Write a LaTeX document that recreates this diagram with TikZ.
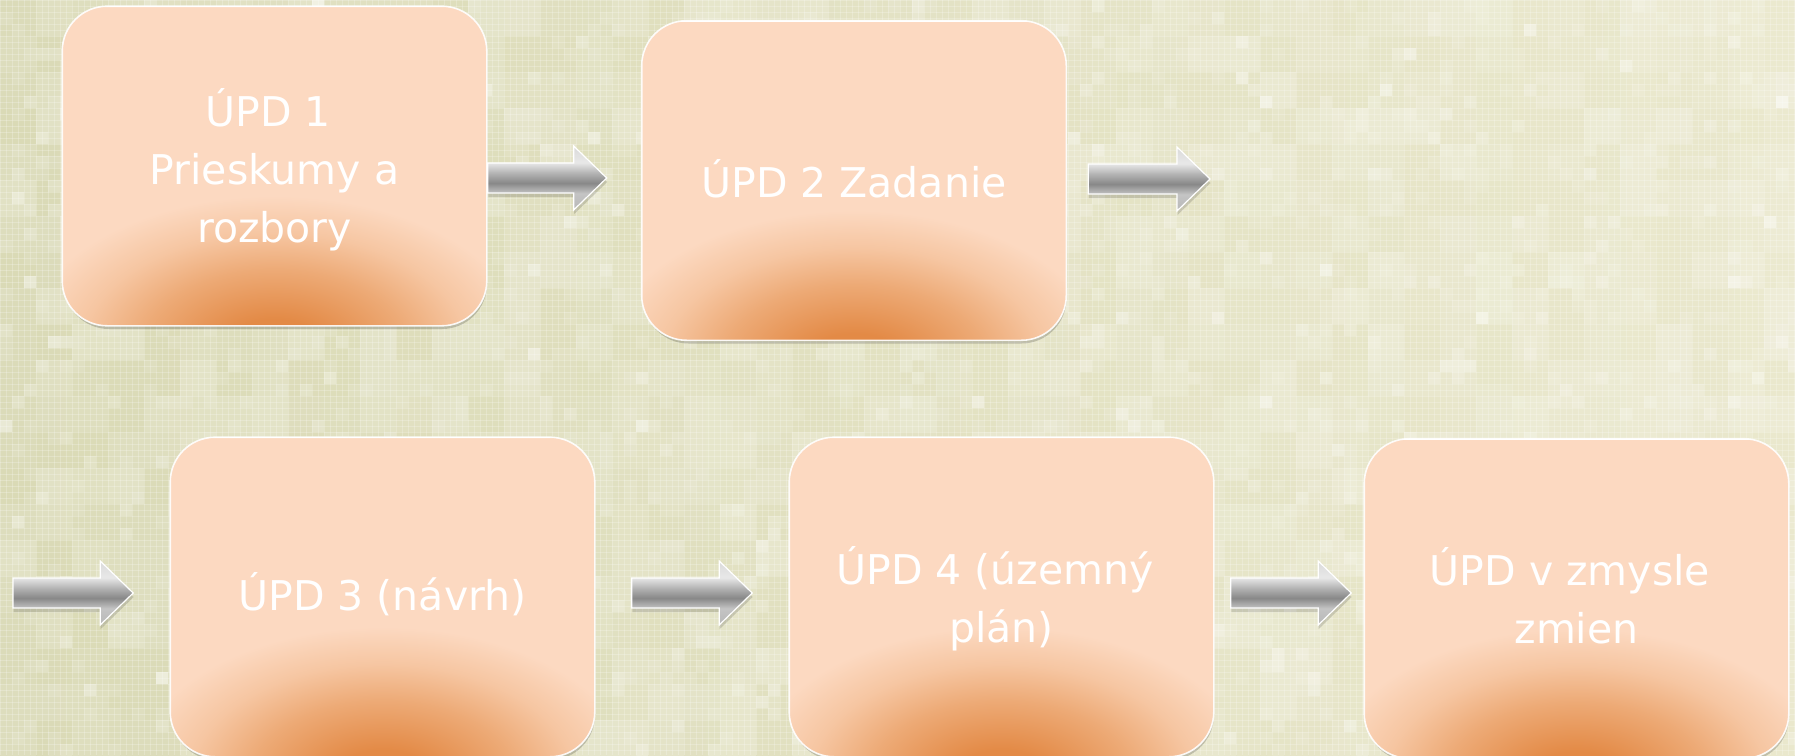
\documentclass[tikz,border=0pt]{standalone}
\usepackage{fontspec}
\setmainfont{DejaVu Sans}
\usetikzlibrary{calc,shadows}

\definecolor{peach}{RGB}{252,217,193}
\definecolor{glowA}{RGB}{227,138,70}
\definecolor{glowB}{RGB}{237,170,118}
\definecolor{glowC}{RGB}{246,198,162}
\definecolor{bgL}{RGB}{218,218,182}
\definecolor{bgR}{RGB}{234,232,205}
\definecolor{agT}{RGB}{218,218,218}
\definecolor{agL}{RGB}{232,232,232}
\definecolor{agM}{RGB}{180,180,180}
\definecolor{agD}{RGB}{136,136,136}
\definecolor{agB}{RGB}{196,196,196}
\definecolor{agBB}{RGB}{184,184,184}

\pgfdeclareradialshading{boxglow}{\pgfpoint{0bp}{0bp}}{%
  color(0bp)=(glowA); color(2.25bp)=(glowA); color(5.85bp)=(glowB);
  color(8.55bp)=(glowC); color(11.26bp)=(peach); color(50bp)=(peach)}
\pgfdeclareverticalshading{arrsh}{100bp}{%
  color(0bp)=(agBB); color(25bp)=(agBB); color(38bp)=(agB);
  color(46bp)=(agD); color(54bp)=(agM); color(62bp)=(agL);
  color(75bp)=(agT); color(100bp)=(agT)}

\newcommand\tsp{\hspace*{0.318em}}
\newcommand\arrpath[2]{($(#1)+(0,-15)$) -- ($(#2)+(-33,-15)$) -- ($(#2)+(-33,-32)$) -- (#2) -- ($(#2)+(-33,32)$) -- ($(#2)+(-33,15)$) -- ($(#1)+(0,15)$) -- cycle}
\newcommand\blockarrow[2]{%
  \fill[black,opacity=0.14,transform canvas={shift={(0.5pt,-4pt)}}] \arrpath{#1}{#2};
  \shade[shading=arrsh, draw=white, line width=1.2pt, line join=miter] \arrpath{#1}{#2};}
\newcommand\boxglow[1]{%
  \begin{scope}
    \clip[rounded corners=45pt] (#1.south west) rectangle (#1.north east);
    \shade[shading=boxglow] ($(#1.south)+(-566,-318)$) rectangle ($(#1.south)+(566,366)$);
  \end{scope}
  \draw[white, opacity=0.9, line width=1.6pt, rounded corners=45pt] (#1.south west) rectangle (#1.north east);}

\tikzset{
  stepbox/.style={rectangle, rounded corners=45pt, minimum width=423pt, minimum height=318pt,
    inner sep=0pt, fill=peach, draw=white, line width=1.6pt,
    drop shadow={shadow xshift=1pt, shadow yshift=-4pt, opacity=0.18, fill=black}},
  txt/.style={text=white, align=center, inner sep=0pt, font=\fontsize{41pt}{58pt}\selectfont},
}

\begin{document}
\begin{tikzpicture}[x=1pt,y=-1pt]
\useasboundingbox (0,0) rectangle (1795,755);
% background
\shade[left color=bgL, right color=bgR] (0,0) rectangle (1795,755);
\pgfmathsetseed{4242}
\foreach \i in {0,...,49}{
  \foreach \j in {0,...,20}{
    \pgfmathtruncatemacro\lv{int(5*rnd)}
    \ifnum\lv>0
      \fill[white,opacity=0.05*\lv] (\i*36,\j*36) rectangle ++(36,36);
    \fi
  }
}
\foreach \i in {0,...,149}{
  \foreach \j in {0,...,62}{
    \pgfmathtruncatemacro\lv{int(8*rnd*rnd*rnd*rnd)}
    \ifnum\lv>0
      \fill[white,opacity=0.1*\lv] (\i*12,\j*12) rectangle ++(12,12);
    \fi
  }
}
\foreach \k in {0,...,299}{
  \draw[white,opacity=0.22,line width=0.7pt] (\k*6,0) -- (\k*6,755);
}
\foreach \k in {0,...,126}{
  \draw[white,opacity=0.22,line width=0.7pt] (0,\k*6) -- (1795,\k*6);
}

% boxes
\node[stepbox] (b1) at (274.5,166) {};
\node[stepbox] (b2) at (854,180.5) {};
\node[stepbox] (b3) at (382.5,597) {};
\node[stepbox] (b4) at (1001.5,597) {};
\node[stepbox] (b5) at (1576.5,598.5) {};
\boxglow{b1}\boxglow{b2}\boxglow{b3}\boxglow{b4}\boxglow{b5}

% texts (base = baseline of the last line)
\node[txt, anchor=base] (t1) at (274.5,242) {ÚPD 1\tsp\\Prieskumy a\tsp\\rozbory};
\node[txt, anchor=base] (t2) at (854,197) {ÚPD 2 Zadanie};
\node[txt, anchor=base] (t3) at (382.5,610) {ÚPD 3 (návrh)};
\node[txt, anchor=base] (t4) at (1001.5,642) {ÚPD 4 (územný\tsp\\plán)};
\node[txt, anchor=base] (t5) at (1576.5,643) {ÚPD v zmysle\tsp\\zmien};

% arrows
\coordinate (a1s) at ($(b1.east)+(1,12)$);
\coordinate (a1e) at ($(b2.west)+(-35,-2.5)$);
\coordinate (a2s) at ($(b2.east)+(22,-1.5)$);
\coordinate (a2e) at (1210,179);
\coordinate (a3s) at (13,593);
\coordinate (a3e) at ($(b3.west)+(-37,-4)$);
\coordinate (a4s) at ($(b3.east)+(37,-4)$);
\coordinate (a4e) at ($(b4.west)+(-37,-4)$);
\coordinate (a5s) at ($(b4.east)+(17,-4)$);
\coordinate (a5e) at ($(b5.west)+(-13,-5.5)$);
\blockarrow{a1s}{a1e}
\blockarrow{a2s}{a2e}
\blockarrow{a3s}{a3e}
\blockarrow{a4s}{a4e}
\blockarrow{a5s}{a5e}
\end{tikzpicture}
\end{document}
